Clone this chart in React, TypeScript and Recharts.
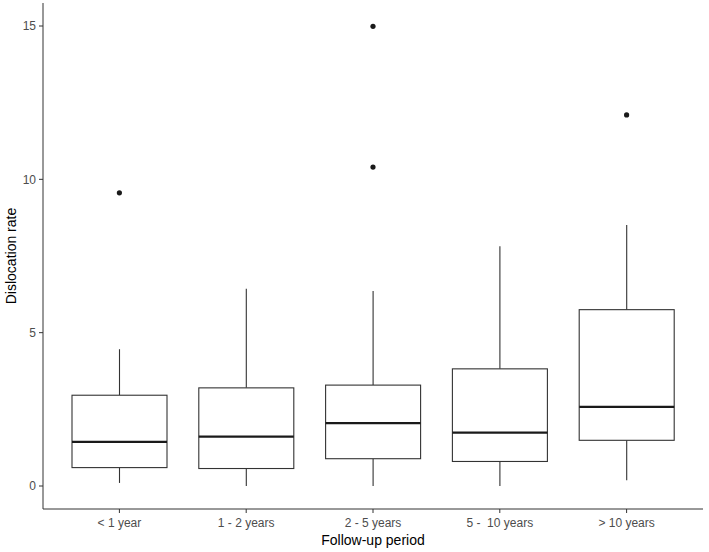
import React from "react";
import { ComposedChart, Bar, Scatter, XAxis, YAxis } from "recharts";

const categories = ["< 1 year", "1 - 2 years", "2 - 5 years", "5 -  10 years", "> 10 years"];
const lowerWhisker = [0.1, 0, 0, 0, 0.19];
const q1 = [0.6, 0.57, 0.89, 0.8, 1.49];
const median = [1.44, 1.61, 2.05, 1.74, 2.58];
const q3 = [2.96, 3.2, 3.29, 3.82, 5.75];
const upperWhisker = [4.46, 6.43, 6.36, 7.82, 8.51];
const outliers: number[][] = [[9.56], [], [14.99, 10.4], [], [12.1]];
const yTicks = [0, 5, 10, 15];

const data = categories.map((name, i) => ({
  name,
  min: lowerWhisker[i],
  q1: q1[i],
  median: median[i],
  q3: q3[i],
  max: upperWhisker[i],
  out1: outliers[i][0] ?? null,
  out2: outliers[i][1] ?? null,
}));

const FONT = "'Liberation Sans', Arial, sans-serif";
const LINE = "#333333";

// box + whiskers + median, placed from the bar's own q1..q3 geometry
const BoxShape = (props: any) => {
  const { x, y, width, height, payload } = props;
  const k = height / (payload.q3 - payload.q1);
  const yOf = (v: number) => y + (payload.q3 - v) * k;
  const cx = x + width / 2;
  return (
    <g>
      <line x1={cx} x2={cx} y1={yOf(payload.max)} y2={y} stroke={LINE} strokeWidth={1.1} />
      <line x1={cx} x2={cx} y1={y + height} y2={yOf(payload.min)} stroke={LINE} strokeWidth={1.1} />
      <rect x={x} y={y} width={width} height={height} fill="#ffffff" stroke={LINE} strokeWidth={1.1} />
      <line x1={x} x2={x + width} y1={yOf(payload.median)} y2={yOf(payload.median)} stroke="#1a1a1a" strokeWidth={2.2} />
    </g>
  );
};

const Dot = (props: any) => {
  const { cx, cy } = props;
  if (!Number.isFinite(cx) || !Number.isFinite(cy)) return <g />;
  return <circle cx={cx} cy={cy} r={2.6} fill="#1a1a1a" />;
};

const XTick = (props: any) => {
  const { x, y, payload } = props;
  return (
    <text x={x} y={y + 9} textAnchor="middle" fontSize={12} fill="#4d4d4d" fontFamily={FONT} xmlSpace="preserve" style={{ whiteSpace: "pre" }}>
      {payload.value}
    </text>
  );
};

const YTitle = (props: any) => {
  const { viewBox } = props;
  const cx = viewBox.x + 11;
  const cy = viewBox.y + viewBox.height / 2;
  return (
    <text x={cx} y={cy} transform={`rotate(-90 ${cx} ${cy})`} textAnchor="middle" dominantBaseline="central" fontSize={14} fill="#000" fontFamily={FONT}>
      Dislocation rate
    </text>
  );
};

const XTitle = (props: any) => {
  const { viewBox } = props;
  const cx = viewBox.x + viewBox.width / 2;
  return (
    <text x={cx} y={viewBox.y + 31} textAnchor="middle" dominantBaseline="central" fontSize={14} fill="#000" fontFamily={FONT}>
      Follow-up period
    </text>
  );
};

export default function App() {
  return (
    <div style={{ position: "absolute", left: 0, top: 0, width: 709, height: 552, background: "#fff" }}>
      <ComposedChart width={709} height={552} data={data} margin={{ top: 3, right: 6, bottom: 0, left: 0 }}>
        <XAxis
          dataKey="name"
          type="category"
          height={43}
          padding={{ left: 13, right: 13 }}
          stroke={LINE}
          tickSize={4}
          tickMargin={5}
          tick={<XTick />}
          tickLine={{ stroke: LINE }}
          label={<XTitle />}
        />
        <YAxis
          type="number"
          domain={[-0.75, 15.75]}
          ticks={yTicks}
          width={43}
          stroke={LINE}
          tickSize={4}
          tickMargin={3}
          tick={{ fill: "#4d4d4d", fontSize: 12, fontFamily: FONT }}
          tickLine={{ stroke: LINE }}
          label={<YTitle />}
        />
        <Bar dataKey={(d: any) => [d.q1, d.q3]} barSize={95} shape={<BoxShape />} isAnimationActive={false} />
        <Scatter dataKey="out1" shape={<Dot />} isAnimationActive={false} />
        <Scatter dataKey="out2" shape={<Dot />} isAnimationActive={false} />
      </ComposedChart>
    </div>
  );
}
